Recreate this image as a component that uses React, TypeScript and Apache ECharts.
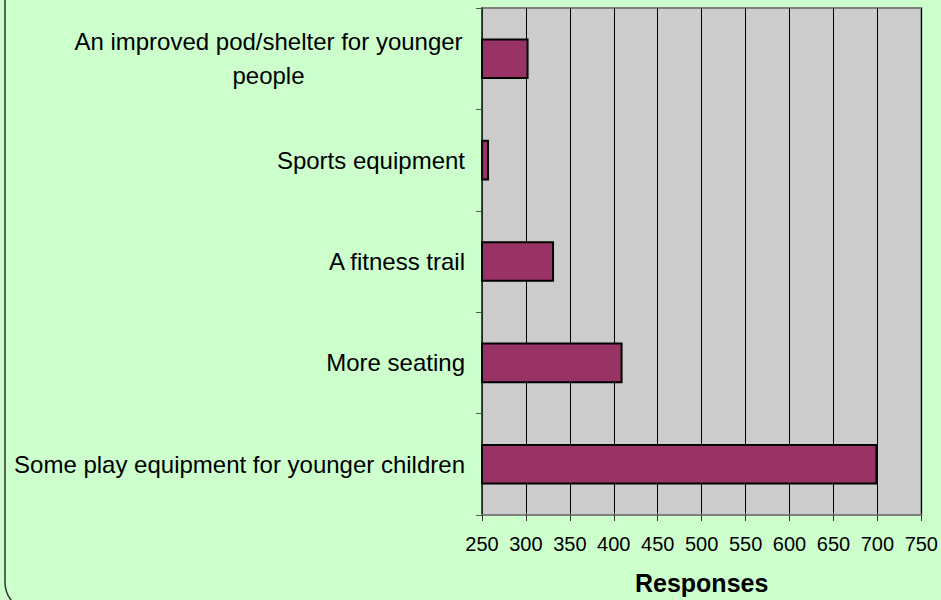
import React, { useEffect, useRef } from "react";
import * as echarts from "echarts";

const categories = [
  "An improved pod/shelter for younger people",
  "Sports equipment",
  "A fitness trail",
  "More seating",
  "Some play equipment for younger children",
];
const responses = [303, 258, 332, 410, 700];
const axisMin = 250;
const axisMax = 750;
const axisStep = 50;
const axisTitle = "Responses";

export default function App() {
  const ref = useRef<HTMLDivElement>(null);
  useEffect(() => {
    if (!ref.current) return;
    const chart = echarts.init(ref.current, null, { renderer: "svg" });
    const font = "'Liberation Sans', Arial, sans-serif";
    chart.setOption({
      animation: false,
      backgroundColor: "#CCFFCC",
      graphic: [
        {
          type: "rect",
          shape: { x: 5, y: -40, width: 1000, height: 652, r: 30 },
          style: { fill: "none", stroke: "#333333", lineWidth: 1.5 },
          z: 100,
        },
      ],
      grid: {
        left: 482,
        top: 8,
        right: 19,
        bottom: 81,
        show: true,
        backgroundColor: "#CCCCCC",
        borderColor: "#808080",
        borderWidth: 2,
      },
      xAxis: {
        type: "value",
        min: axisMin,
        max: axisMax,
        interval: axisStep,
        name: axisTitle,
        nameLocation: "middle",
        nameGap: 55,
        nameTextStyle: {
          fontFamily: font,
          fontSize: 25,
          fontWeight: "bold",
          color: "#000",
        },
        axisLine: { show: true, lineStyle: { color: "#808080", width: 2 } },
        axisTick: { show: true, length: 6, lineStyle: { color: "#333" } },
        axisLabel: {
          fontFamily: font,
          fontSize: 20,
          color: "#000",
          margin: 19,
        },
        splitLine: { show: true, lineStyle: { color: "#000", width: 1 } },
      },
      yAxis: {
        type: "category",
        inverse: true,
        data: categories,
        axisLine: { show: true, lineStyle: { color: "#333", width: 1.5 } },
        axisTick: { show: true, length: 6, lineStyle: { color: "#555" } },
        axisLabel: {
          fontFamily: font,
          fontSize: 24,
          color: "#000",
          margin: 17,
          lineHeight: 34,
          formatter: (v: string) => {
            if (v.startsWith("An improved")) {
              return "{c|An improved pod/shelter for younger}\n{c|people}";
            }
            return v;
          },
          rich: {
            c: {
              fontFamily: font,
              fontSize: 24,
              color: "#000",
              lineHeight: 34,
              width: 393,
              align: "center",
            },
          },
        },
      },
      series: [
        {
          type: "bar",
          data: responses,
          barWidth: "40%",
          itemStyle: {
            color: "#993366",
            borderColor: "#000",
            borderWidth: 2,
          },
        },
      ],
    });
    return () => chart.dispose();
  }, []);
  return (
    <div
      ref={ref}
      style={{ position: "fixed", left: 0, top: 0, width: 941, height: 600 }}
    />
  );
}
